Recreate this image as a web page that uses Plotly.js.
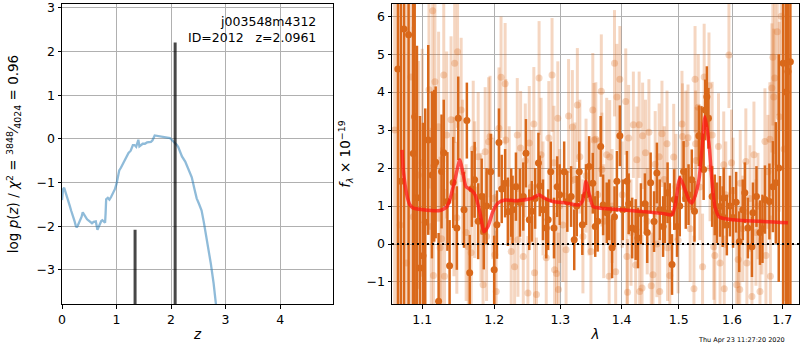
<!DOCTYPE html>
<html>
<head>
<meta charset="utf-8">
<script src="https://cdn.plot.ly/plotly-3.0.1.min.js"></script>
<style>html,body{margin:0;padding:0;background:#fff;}#chart{width:800px;height:350px;}</style>
</head>
<body>
<div id="chart"></div>
<script>
// ---- left panel: log p(z) ----
const pz_z = [0.0,0.02,0.04,0.06,0.09,0.11,0.14,0.17,0.20,0.23,0.25,0.27,0.29,0.31,0.34,0.36,0.38,0.40,0.43,0.46,0.49,0.52,0.55,0.58,0.62,0.65,0.67,0.69,0.72,0.74,0.77,0.79,0.80,0.81,0.84,0.87,0.90,0.93,0.97,1.00,1.03,1.05,1.08,1.12,1.15,1.19,1.22,1.26,1.28,1.30,1.33,1.36,1.38,1.40,1.42,1.45,1.48,1.52,1.56,1.63,1.66,1.70,1.74,1.78,1.84,1.90,1.95,1.98,2.02,2.07,2.10,2.13,2.17,2.20,2.26,2.31,2.38,2.43,2.47,2.51,2.56,2.60,2.64,2.68,2.73,2.78,2.82,2.86];
const pz_logp = [-1.40,-1.15,-1.12,-1.20,-1.28,-1.35,-1.52,-1.65,-1.75,-1.88,-1.98,-2.03,-1.98,-1.92,-1.85,-1.78,-1.68,-1.72,-1.79,-1.84,-1.87,-1.90,-1.93,-1.90,-1.89,-2.08,-2.02,-1.94,-1.88,-1.86,-1.90,-1.92,-1.70,-1.38,-1.35,-1.39,-1.33,-1.26,-1.15,-1.03,-0.82,-0.72,-0.66,-0.57,-0.47,-0.38,-0.32,-0.27,-0.20,-0.14,-0.14,-0.18,-0.10,-0.02,-0.17,-0.14,-0.11,-0.11,-0.08,-0.07,-0.03,0.08,0.07,0.06,0.06,0.04,0.02,0.02,-0.03,-0.08,-0.13,-0.18,-0.32,-0.40,-0.52,-0.66,-0.88,-1.15,-1.36,-1.48,-1.64,-1.90,-2.17,-2.45,-2.86,-3.30,-3.77,-4.20];
const spike_z = [1.34, 2.075];
const spike_logp = [-2.08, 2.21];
const spike_base = -5;

// ---- right panel: spectrum ----
// binned (dark) points
const bin_lam = [1.068,1.072,1.076,1.082,1.088,1.090,1.093,1.097,1.101,1.104,1.108,1.113,1.116,1.118,1.122,1.126,1.129,1.134,1.137,1.142,1.147,1.149,1.157,1.161,1.165,1.168,1.172,1.177,1.182,1.185,1.189,1.195,1.200,1.204,1.207,1.211,1.216,1.220,1.225,1.227,1.232,1.238,1.243,1.247,1.252,1.256,1.261,1.266,1.268,1.273,1.278,1.281,1.285,1.290,1.295,1.299,1.306,1.311,1.317,1.322,1.326,1.330,1.335,1.341,1.346,1.352,1.356,1.360,1.365,1.369,1.375,1.379,1.384,1.388,1.392,1.397,1.402,1.409,1.412,1.418,1.424,1.428,1.433,1.440,1.444,1.450,1.456,1.461,1.466,1.472,1.475,1.480,1.484,1.488,1.492,1.497,1.502,1.509,1.513,1.518,1.524,1.529,1.537,1.542,1.546,1.549,1.552,1.555,1.562,1.567,1.571,1.577,1.582,1.584,1.590,1.596,1.602,1.608,1.614,1.621,1.625,1.631,1.639,1.641,1.648,1.655,1.660,1.665,1.674,1.681,1.687,1.693,1.702,1.708,1.712,1.717];
const bin_flux = [4.61,1.65,5.66,5.51,2.38,3.35,1.22,-0.63,-0.31,0.57,2.74,1.82,2.06,2.15,-1.51,1.91,2.40,1.12,-0.57,1.62,0.42,3.31,0.90,3.25,-0.76,1.45,1.69,0.60,1.25,0.33,1.00,1.90,-0.68,0.51,2.67,1.45,1.60,0.85,1.09,0.90,1.51,1.09,1.25,2.39,0.64,0.86,1.20,2.13,1.53,0.90,0.42,0.64,1.90,0.42,1.51,1.30,1.90,1.12,1.25,0.11,1.00,1.90,0.51,1.30,2.04,1.60,0.46,0.60,2.57,1.03,0.82,0.90,-0.10,0.72,1.65,2.85,0.90,1.65,1.06,0.42,0.38,0.16,0.80,1.06,0.30,1.61,0.59,1.87,0.90,0.46,0.82,1.35,0.80,-0.54,1.17,0.46,1.00,1.91,1.20,1.30,1.69,0.86,2.85,2.83,1.96,3.53,3.88,3.31,1.25,1.03,0.82,0.99,0.72,1.21,0.50,1.00,0.70,1.10,0.06,0.90,1.35,0.42,-0.07,0.82,1.25,0.30,0.40,1.17,1.12,1.51,1.61,2.00,4.76,4.00,4.54,4.80];
const bin_err = [8,8,8,8,6,5,4,4,3.5,3,2.5,2.2,2,2,1.8,1.5,1.4,1.3,1.2,1.2,1.1,1.1,1.0,1.0,1.0,1.0,1.0,1.0,1.0,1.0,1.0,1.0,0.9,0.9,0.9,0.9,0.9,0.9,0.9,0.9,0.9,0.9,0.9,0.9,0.8,0.8,0.8,0.8,0.8,0.8,0.8,0.8,0.8,0.8,0.8,0.8,0.8,0.8,0.8,0.8,0.8,0.8,0.8,0.8,0.8,0.8,0.8,0.8,0.8,0.8,0.8,0.8,0.8,0.8,0.8,0.8,0.8,0.8,0.8,0.8,0.8,0.8,0.8,0.8,0.8,0.8,0.8,0.8,0.8,0.8,0.8,0.8,0.8,0.8,0.8,0.8,0.8,0.8,0.8,0.8,0.8,0.8,0.8,0.8,0.8,0.8,0.8,0.8,0.8,0.8,0.8,0.8,0.8,0.8,0.8,0.8,0.8,0.8,0.8,0.8,0.8,0.8,0.8,0.8,0.8,0.85,0.9,0.9,1.0,1.2,1.6,3,8,8,8,8];

// unbinned (light) points
const raw_lam = [1.064,1.071,1.079,1.085,1.088,1.095,1.100,1.109,1.112,1.114,1.115,1.117,1.122,1.124,1.126,1.129,1.130,1.133,1.139,1.143,1.144,1.147,1.148,1.153,1.155,1.160,1.163,1.167,1.170,1.172,1.177,1.181,1.184,1.187,1.189,1.192,1.194,1.198,1.201,1.203,1.207,1.210,1.216,1.217,1.222,1.225,1.230,1.234,1.235,1.239,1.243,1.246,1.250,1.252,1.255,1.259,1.260,1.263,1.267,1.270,1.273,1.278,1.282,1.287,1.290,1.291,1.294,1.296,1.297,1.299,1.304,1.309,1.313,1.319,1.323,1.327,1.331,1.336,1.341,1.346,1.349,1.352,1.354,1.357,1.360,1.366,1.367,1.370,1.375,1.379,1.380,1.384,1.388,1.390,1.392,1.397,1.401,1.407,1.409,1.410,1.412,1.416,1.420,1.424,1.426,1.430,1.431,1.435,1.436,1.441,1.444,1.447,1.451,1.454,1.458,1.461,1.465,1.466,1.470,1.474,1.479,1.480,1.484,1.491,1.495,1.499,1.506,1.507,1.513,1.517,1.521,1.528,1.530,1.531,1.532,1.536,1.539,1.544,1.547,1.556,1.558,1.562,1.565,1.567,1.574,1.577,1.584,1.585,1.588,1.594,1.599,1.602,1.609,1.612,1.615,1.616,1.621,1.627,1.629,1.635,1.639,1.643,1.647,1.651,1.655,1.659,1.665,1.667,1.671,1.675,1.676,1.679,1.681,1.683,1.685,1.690,1.694,1.698,1.704];
const raw_flux = [3.0,0.5,-0.5,4.40,0.72,1.82,2.14,4.06,0.46,6.14,-0.83,4.27,3.09,-0.10,0.14,4.45,-0.85,2.87,3.27,1.25,4.76,0.69,5.06,3.53,1.90,0.30,-0.07,-0.23,2.50,1.43,2.30,0.70,-1.07,2.43,0.20,2.69,2.83,1.20,-0.28,-1.25,3.05,4.39,4.22,2.74,1.60,-0.20,-0.60,2.87,0.11,2.53,-0.33,2.20,-1.29,2.66,1.50,3.16,-0.76,-1.33,4.37,2.35,1.20,-0.36,2.79,4.45,2.14,-0.68,-0.78,3.31,-1.20,1.00,0.50,-0.15,3.37,3.08,1.70,3.66,2.30,0.20,1.80,1.20,-0.20,3.53,2.74,2.76,1.30,4.02,1.96,0.60,2.35,-0.85,2.29,1.00,4.76,-0.73,3.87,4.34,1.30,3.75,-0.33,-1.27,2.79,0.30,3.14,-0.55,2.22,3.14,-1.25,-1.16,2.85,2.40,0.60,2.94,-1.10,-0.81,2.10,0.00,2.30,-1.25,2.90,1.70,2.64,-0.10,-0.83,2.29,1.50,0.10,3.16,2.83,2.64,2.80,0.40,-1.18,4.34,2.64,2.20,3.60,1.50,-0.60,4.40,4.17,2.00,2.87,-0.07,-0.30,2.57,-0.50,2.09,-1.18,1.30,4.98,2.14,1.40,-1.07,-0.41,-1.20,1.60,0.40,2.17,-0.50,1.20,-1.38,2.35,0.30,1.00,-1.25,0.60,2.70,-0.30,1.90,2.76,-0.85,4.11,4.92,3.87,4.37,5.59,3.35,6.00,2.50];
const raw_err = [8,8,8,6,5,3,3,2.6,2.6,2.6,2.6,2.5,2.5,2.4,2.4,2.3,2.3,2.2,2.2,2.1,2.1,2.0,2.0,1.9,1.9,1.8,1.8,1.8,1.8,1.8,1.7,1.7,1.7,1.7,1.7,1.7,1.6,1.6,1.6,1.6,1.6,1.6,1.6,1.6,1.5,1.5,1.5,1.5,1.5,1.5,1.5,1.5,1.5,1.5,1.5,1.5,1.5,1.5,1.5,1.5,1.5,1.5,1.5,1.5,1.5,1.5,1.5,1.5,1.5,1.5,1.5,1.5,1.5,1.5,1.5,1.5,1.5,1.5,1.5,1.5,1.5,1.5,1.5,1.5,1.5,1.5,1.5,1.5,1.5,1.5,1.5,1.5,1.4,1.4,1.4,1.4,1.4,1.4,1.4,1.4,1.4,1.4,1.4,1.4,1.4,1.4,1.4,1.4,1.4,1.4,1.4,1.4,1.4,1.4,1.4,1.4,1.4,1.4,1.4,1.4,1.4,1.4,1.4,1.4,1.4,1.4,1.4,1.4,1.4,1.4,1.4,1.4,1.4,1.4,1.4,1.4,1.4,1.4,1.4,1.4,1.4,1.4,1.4,1.4,1.4,1.4,1.4,1.4,1.4,1.4,1.4,1.4,1.4,1.4,1.4,1.4,1.4,1.4,1.4,1.4,1.4,1.4,1.4,1.4,1.4,1.4,1.4,1.4,1.5,1.5,1.6,1.7,1.8,1.8,2.0,2.2,2.5,3,4,5,6,8];

// model
const model_lam = [1.0734,1.0750,1.0802,1.0838,1.0877,1.1010,1.1237,1.1333,1.1374,1.1443,1.1513,1.1555,1.1598,1.1668,1.1725,1.1796,1.1853,1.1910,1.1983,1.2056,1.2159,1.2306,1.2501,1.2577,1.2668,1.2745,1.2884,1.3089,1.3296,1.3360,1.3409,1.3458,1.3523,1.3621,1.3754,1.4091,1.4736,1.4879,1.4933,1.5023,1.5096,1.5188,1.5243,1.5298,1.5372,1.5428,1.5484,1.5559,1.5615,1.5672,1.5749,1.5844,1.5998,1.7120];
const model_flux = [2.48,1.96,1.25,1.03,0.95,0.90,0.88,0.98,1.17,1.69,2.22,1.87,1.51,1.43,1.30,0.82,0.32,0.46,0.86,1.08,1.16,1.14,1.18,1.21,1.30,1.21,1.12,1.08,1.03,1.16,1.65,1.34,0.99,0.95,0.93,0.89,0.80,0.77,0.99,1.74,1.51,1.16,1.08,1.25,1.69,2.48,3.35,2.66,1.69,0.99,0.72,0.67,0.64,0.56];

const left_xticks = [0,1,2,3,4];
const left_yticks = [-3,-2,-1,0,1,2,3];
const right_xticks = [1.1,1.2,1.3,1.4,1.5,1.6,1.7];
const right_yticks = [-1,0,1,2,3,4,5,6];

// build spikes as vertical segments
const spikeX = [], spikeY = [];
spike_z.forEach((z,i)=>{ spikeX.push(z,z,null); spikeY.push(spike_base, spike_logp[i], null); });

const dark = 'rgb(217,104,26)';
const light = 'rgba(217,104,26,0.27)';
const F = '"DejaVu Sans", sans-serif';

const traces = [
  {x: pz_z, y: pz_logp, xaxis:'x', yaxis:'y', mode:'lines', line:{color:'rgba(31,119,180,0.5)', width:2.3}, hoverinfo:'skip'},
  {x: spikeX, y: spikeY, xaxis:'x', yaxis:'y', mode:'lines', line:{color:'rgba(0,0,0,0.72)', width:3}, hoverinfo:'skip'},
  {x: raw_lam, y: raw_flux, xaxis:'x2', yaxis:'y2', mode:'markers', marker:{color:light, size:7},
   error_y:{type:'data', array: raw_err, color: light, thickness:3, width:0}, hoverinfo:'skip'},
  {x: bin_lam, y: bin_flux, xaxis:'x2', yaxis:'y2', mode:'markers', marker:{color:dark, size:7},
   error_y:{type:'data', array: bin_err, color: dark, thickness:2.5, width:0}, hoverinfo:'skip'},
  {x: model_lam, y: model_flux, xaxis:'x2', yaxis:'y2', mode:'lines', line:{color:'rgba(255,20,20,0.72)', width:3.5, shape:'spline', smoothing:0.6}, hoverinfo:'skip'}
];

const axBase = {
  showline:true, mirror:true, linecolor:'#000', linewidth:1,
  ticks:'outside', ticklen:3.5, tickcolor:'#000', tickwidth:1,
  showgrid:true, gridcolor:'#b0b0b0', gridwidth:1, zeroline:false,
  tickfont:{family:F, size:12.5, color:'#000'}, automargin:false
};

const yT = 1 - 4/350, yB = 1 - 304/350;
const layout = {
  width:800, height:350, margin:{l:0,r:0,t:0,b:0},
  paper_bgcolor:'#fff', plot_bgcolor:'#fff', showlegend:false,
  font:{family:F, size:12.5, color:'#000'},
  xaxis: Object.assign({}, axBase, {domain:[62/800, 333/800], range:[0,4.97], tickmode:'array', tickvals:left_xticks,
     title:{text:'<i>z</i>', font:{family:F, size:13.5}, standoff:4}, anchor:'y'}),
  yaxis: Object.assign({}, axBase, {domain:[yB, yT], range:[-3.78,3.09], tickmode:'array', tickvals:left_yticks,
     title:{text:'log <i>p</i>(<i>z</i>) / <i>χ</i><sup>2</sup> = <sup>3848</sup>⁄<sub>4024</sub> = 0.96', font:{family:F, size:13.5}, standoff:14}, anchor:'x'}),
  xaxis2: Object.assign({}, axBase, {domain:[392/800, 799/800], type:'log', range:[Math.log10(1.0605), Math.log10(1.735)], tickmode:'array', tickvals:right_xticks, ticktext:right_xticks.map(v=>v.toFixed(1)),
     title:{text:'<i>λ</i>', font:{family:F, size:13.5}, standoff:4}, anchor:'y2'}),
  yaxis2: Object.assign({}, axBase, {domain:[yB, yT], range:[-1.58,6.32], tickmode:'array', tickvals:right_yticks,
     title:{text:'<i>f</i><sub><i>λ</i></sub> × 10<sup>−19</sup>', font:{family:F, size:13.5}, standoff:12}, anchor:'x2'}),
  shapes: [
    {type:'line', xref:'x2 domain', yref:'y2', x0:0, x1:1, y0:0, y1:0, line:{color:'#000', width:2, dash:'2px,3px'}, layer:'above'}
  ],
  annotations: [
    {xref:'paper', yref:'paper', x:318/800, y:1-12/350, xanchor:'right', yanchor:'top', align:'right', showarrow:false,
     text:'j003548m4312<br>ID=2012\u00a0\u00a0\u00a0z=2.0961', font:{family:F, size:12.5, color:'#000'}},
    {xref:'paper', yref:'paper', x:787/800, y:1-340/350, xanchor:'right', yanchor:'middle', showarrow:false,
     text:'Thu Apr 23 11:27:20 2020', font:{family:F, size:6.5, color:'#000'}}
  ]
};

Plotly.newPlot('chart', traces, layout, {displayModeBar:false, staticPlot:true});
</script>
</body>
</html>
